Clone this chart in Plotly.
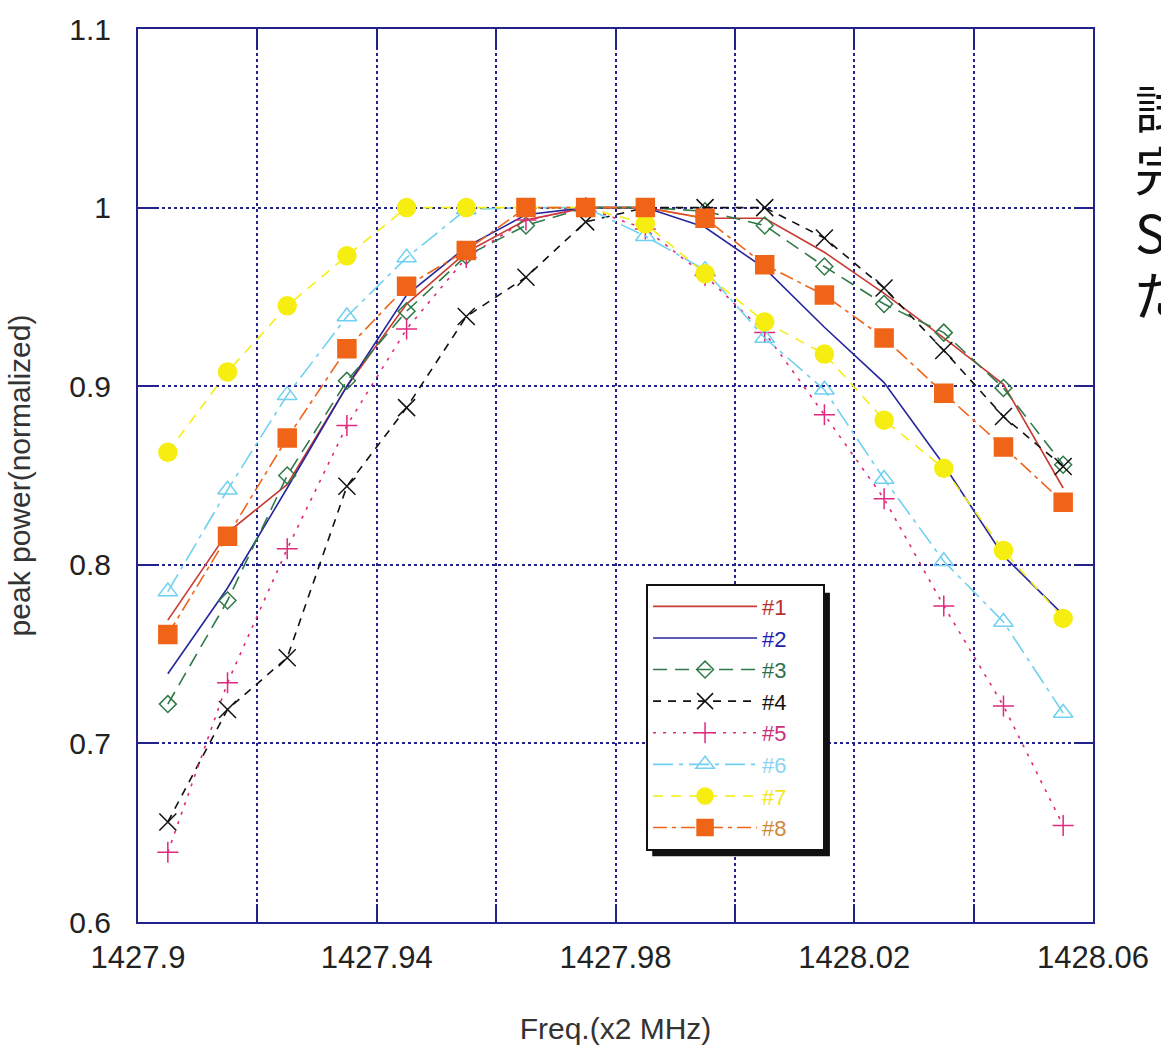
import plotly.graph_objects as go

freq = [1427.905, 1427.915, 1427.925, 1427.935, 1427.945, 1427.955, 1427.965, 1427.975,
        1427.985, 1427.995, 1428.005, 1428.015, 1428.025, 1428.035, 1428.045, 1428.055]

s1 = [0.769, 0.818, 0.845, 0.900, 0.946, 0.975, 0.993, 1.000, 1.000, 0.994, 0.994, 0.975, 0.952, 0.927, 0.901, 0.843]
s2 = [0.739, 0.787, 0.843, 0.900, 0.951, 0.978, 0.996, 1.000, 1.000, 0.989, 0.966, 0.933, 0.902, 0.856, 0.805, 0.772]
s3 = [0.722, 0.780, 0.850, 0.903, 0.942, 0.973, 0.990, 1.000, 1.000, 0.998, 0.990, 0.967, 0.946, 0.930, 0.899, 0.856]
s4 = [0.656, 0.719, 0.748, 0.844, 0.888, 0.939, 0.961, 0.992, 1.000, 1.000, 1.000, 0.983, 0.955, 0.920, 0.883, 0.855]
s5 = [0.639, 0.734, 0.809, 0.878, 0.932, 0.972, 0.993, 1.000, 0.988, 0.962, 0.930, 0.884, 0.837, 0.777, 0.721, 0.654]
s6 = [0.785, 0.842, 0.895, 0.939, 0.972, 0.999, 1.000, 1.000, 0.984, 0.965, 0.927, 0.898, 0.848, 0.802, 0.768, 0.717]
s7 = [0.863, 0.908, 0.945, 0.973, 1.000, 1.000, 1.000, 1.000, 0.991, 0.963, 0.936, 0.918, 0.881, 0.854, 0.808, 0.770]
s8 = [0.761, 0.816, 0.871, 0.921, 0.956, 0.976, 1.000, 1.000, 1.000, 0.994, 0.968, 0.951, 0.927, 0.896, 0.866, 0.835]

names = ["#1", "#2", "#3", "#4", "#5", "#6", "#7", "#8"]
series = [s1, s2, s3, s4, s5, s6, s7, s8]

x_tickvals = [1427.90, 1427.92, 1427.94, 1427.96, 1427.98, 1428.00, 1428.02, 1428.04, 1428.06]
x_ticktext = ["1427.9", "", "1427.94", "", "1427.98", "", "1428.02", "", "1428.06"]
y_tickvals = [0.6, 0.7, 0.8, 0.9, 1.0, 1.1]
y_ticktext = ["0.6", "0.7", "0.8", "0.9", "1", "1.1"]

side_text = ["試", "完", "S", "だ"]

line_colors = ["#c83a32", "#26269e", "#2f7a48", "#111111", "#e0287e", "#70d0f0", "#f5ee10", "#f06418"]
text_colors = ["#b83030", "#2020b0", "#2f6f50", "#111111", "#c8307a", "#88d4f0", "#f2e420", "#d08838"]
dashes = ["solid", "solid", "14px,8px", "8px,7px", "3px,7px", "20px,6px,4px,6px", "10px,8px", "14px,5px,4px,5px"]
symbols = [None, None, "diamond-open", "x-thin-open", "cross-thin-open", "triangle-up-open", "circle", "square"]
msizes = [0, 0, 13, 17, 15, 17, 18, 18]

navy = "#22228a"
fig = go.Figure()
for i in range(8):
    kw = {}
    if symbols[i] is None:
        mode = "lines"
    else:
        mode = "lines+markers"
        kw["marker"] = dict(symbol=symbols[i], size=msizes[i], color=line_colors[i],
                            line=dict(color=line_colors[i], width=1.5))
    fig.add_trace(go.Scatter(
        x=freq, y=series[i], mode=mode,
        name=f'<span style="color:{text_colors[i]}">{names[i]}</span>' + "&nbsp;" * 5,
        line=dict(color=line_colors[i], width=1.6, dash=dashes[i]),
        **kw))

fig.update_layout(
    width=1161, height=1055,
    margin=dict(l=138, r=61, t=27, b=133),
    paper_bgcolor="white", plot_bgcolor="white",
    font=dict(family="Liberation Sans, Arial, sans-serif", size=30, color="#222222"),
    showlegend=True,
    legend=dict(x=0.532, y=0.379, xanchor="left", yanchor="top",
                bgcolor="white", bordercolor="#111111", borderwidth=2,
                font=dict(size=22), itemwidth=104, tracegroupgap=0),
)
fig.update_xaxes(
    range=[1427.9, 1428.06], tickvals=x_tickvals, ticktext=x_ticktext,
    showline=True, linecolor=navy, linewidth=2, mirror="ticks",
    ticks="inside", ticklen=18, tickwidth=2, tickcolor=navy,
    showgrid=True, gridcolor=navy, griddash="dot", gridwidth=1.5,
    zeroline=False, ticklabelstandoff=7, tickfont=dict(size=31),
    title=dict(text="Freq.(x2 MHz)", standoff=44, font=dict(size=30, color="#333333")),
)
fig.update_yaxes(
    range=[0.6, 1.1], tickvals=y_tickvals, ticktext=y_ticktext,
    showline=True, linecolor=navy, linewidth=2, mirror="ticks",
    ticks="inside", ticklen=18, tickwidth=2, tickcolor=navy,
    showgrid=True, gridcolor=navy, griddash="dot", gridwidth=1.5,
    zeroline=False, ticklabelstandoff=19,
    title=dict(text="peak power(normalized)", standoff=30, font=dict(size=30, color="#333333")),
)

# legend drop shadow
fig.add_shape(type="rect", xref="paper", yref="paper",
              x0=(656 - 138) / 962, x1=(835 - 138) / 962,
              y0=1 - (856 - 27) / 895, y1=1 - (592 - 27) / 895,
              fillcolor="#111111", line=dict(width=0), layer="above")

for k, t in enumerate(side_text):
    fig.add_annotation(text=t, xref="paper", yref="paper",
                       x=(1140 - 138) / 962, y=1 - (105 + 62 * k - 27) / 895,
                       xanchor="left", yanchor="middle", showarrow=False,
                       font=dict(family="Noto Sans CJK JP", size=52, color="#111111"))

fig.write_html("out.html", config={"displayModeBar": False},
               post_script="document.body.style.margin='0';document.body.style.overflow='hidden';")
